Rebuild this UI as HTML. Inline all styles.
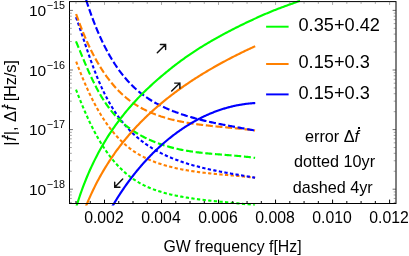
<!DOCTYPE html><html><head><meta charset="utf-8"><style>
html,body{margin:0;padding:0;background:#fff;}
body{width:409px;height:256px;position:relative;overflow:hidden;font-family:'Liberation Sans',sans-serif;color:#000;}
.t{position:absolute;white-space:nowrap;line-height:1;}
.xt{font-size:15.8px;top:209.8px;width:60px;margin-left:-30.6px;text-align:center;}
.yt{font-size:15.5px;width:60px;text-align:right;left:5px;}
.yt sup{font-size:10.8px;vertical-align:baseline;position:relative;top:-7.2px;margin-left:0.5px;}
.lg{font-size:18.2px;left:298.5px;}
.an{font-size:16.2px;width:120px;left:273px;text-align:center;}
.fd{font-style:italic;position:relative;display:inline-block;}
.fd i{position:absolute;left:0.21em;top:-0.03em;width:0.125em;height:0.125em;background:#000;border-radius:0;}
</style></head><body>
<svg width="409" height="256" viewBox="0 0 409 256" style="position:absolute;left:0;top:0">
<defs><clipPath id="cp"><rect x="69.5" y="0.1" width="326.5" height="205.5"/></clipPath></defs>
<g clip-path="url(#cp)" fill="none">
<path d="M76.01 89.63 L76.34 90.50 L76.68 91.38 L77.03 92.26 L77.37 93.14 L77.71 94.02 L78.06 94.91 L78.41 95.79 L78.76 96.68 L79.11 97.57 L79.47 98.46 L79.83 99.36 L80.19 100.25 L80.55 101.15 L80.91 102.05 L81.28 102.95 L81.65 103.85 L82.02 104.75 L82.40 105.65 L82.78 106.56 L83.16 107.46 L83.54 108.37 L83.92 109.27 L84.31 110.18 L84.70 111.08 L85.10 111.99 L85.49 112.89 L85.89 113.80 L86.29 114.71 L86.70 115.61 L87.11 116.52 L87.52 117.42 L87.93 118.33 L88.35 119.23 L88.77 120.13 L89.19 121.04 L89.62 121.94 L90.05 122.84 L90.48 123.74 L90.92 124.64 L91.36 125.53 L91.80 126.43 L92.25 127.32 L92.70 128.21 L93.15 129.10 L93.61 129.99 L94.07 130.88 L94.54 131.76 L95.01 132.65 L95.48 133.53 L95.96 134.40 L96.44 135.28 L96.92 136.15 L97.41 137.02 L97.90 137.89 L98.40 138.75 L98.90 139.61 L99.40 140.47 L99.91 141.33 L100.42 142.18 L100.94 143.03 L101.46 143.87 L101.98 144.71 L102.51 145.55 L103.05 146.38 L103.58 147.21 L104.13 148.04 L104.67 148.86 L105.23 149.68 L105.78 150.49 L106.34 151.30 L106.91 152.11 L107.48 152.91 L108.05 153.70 L108.63 154.49 L109.22 155.28 L109.80 156.06 L110.40 156.83 L111.00 157.60 L111.60 158.37 L112.21 159.13 L112.82 159.88 L113.44 160.63 L114.07 161.37 L114.70 162.11 L115.33 162.84 L115.97 163.56 L116.61 164.28 L117.26 164.99 L117.92 165.70 L118.58 166.39 L119.25 167.09 L119.92 167.77 L120.60 168.45 L121.28 169.12 L121.97 169.79 L122.66 170.45 L123.36 171.10 L124.07 171.74 L124.78 172.38 L125.50 173.01 L126.22 173.63 L126.95 174.24 L127.68 174.85 L128.42 175.45 L129.17 176.04 L129.92 176.62 L130.68 177.19 L131.44 177.76 L132.22 178.32 L132.99 178.86 L133.78 179.40 L134.57 179.94 L135.36 180.46 L136.16 180.97 L136.97 181.48 L137.79 181.97 L138.61 182.46 L139.44 182.93 L140.27 183.40 L141.11 183.86 L141.96 184.31 L142.81 184.75 L143.67 185.18 L144.54 185.60 L145.41 186.02 L146.28 186.42 L147.16 186.82 L148.05 187.21 L148.94 187.59 L149.84 187.97 L150.74 188.33 L151.64 188.69 L152.55 189.04 L153.47 189.38 L154.39 189.72 L155.31 190.05 L156.24 190.37 L157.17 190.68 L158.10 190.99 L159.04 191.29 L159.98 191.58 L160.93 191.87 L161.88 192.15 L162.83 192.43 L163.78 192.70 L164.74 192.96 L165.70 193.22 L166.66 193.47 L167.62 193.72 L168.59 193.96 L169.56 194.19 L170.53 194.42 L171.50 194.65 L172.47 194.87 L173.45 195.08 L174.42 195.29 L175.40 195.50 L176.38 195.70 L177.36 195.90 L178.34 196.09 L179.32 196.28 L180.30 196.46 L181.28 196.64 L182.26 196.82 L183.24 196.99 L184.23 197.16 L185.21 197.33 L186.19 197.49 L187.17 197.65 L188.16 197.81 L189.14 197.96 L190.12 198.11 L191.11 198.26 L192.09 198.41 L193.07 198.55 L194.05 198.69 L195.04 198.82 L196.02 198.96 L197.00 199.09 L197.98 199.22 L198.96 199.34 L199.95 199.47 L200.93 199.59 L201.91 199.71 L202.89 199.83 L203.87 199.94 L204.85 200.06 L205.83 200.17 L206.81 200.28 L207.79 200.39 L208.77 200.50 L209.75 200.60 L210.73 200.71 L211.71 200.81 L212.69 200.91 L213.66 201.01 L214.64 201.11 L215.62 201.21 L216.59 201.31 L217.57 201.41 L218.54 201.50 L219.52 201.60 L220.49 201.69 L221.47 201.79 L222.44 201.88 L223.41 201.98 L224.38 202.07 L225.35 202.16 L226.32 202.26 L227.29 202.35 L228.26 202.44 L229.23 202.54 L230.20 202.63 L231.17 202.73 L232.13 202.82 L233.10 202.92 L234.06 203.01 L235.02 203.11 L235.99 203.21 L236.95 203.30 L237.91 203.40 L238.87 203.50 L239.83 203.60 L240.79 203.70 L241.74 203.81 L242.70 203.91 L243.65 204.02 L244.61 204.12 L245.56 204.23 L246.51 204.34 L247.46 204.45 L248.41 204.57 L249.36 204.68 L250.31 204.80 L251.26 204.92 L252.20 205.04 L253.15 205.16 L254.09 205.29 L255.03 205.42" stroke="#00ff00" stroke-width="2.1" stroke-dasharray="3.3 2.35"/>
<path d="M76.15 61.62 L76.49 62.49 L76.82 63.37 L77.16 64.25 L77.50 65.13 L77.84 66.01 L78.18 66.90 L78.53 67.79 L78.88 68.67 L79.23 69.57 L79.58 70.46 L79.94 71.35 L80.30 72.25 L80.66 73.15 L81.02 74.05 L81.38 74.95 L81.75 75.85 L82.12 76.75 L82.49 77.65 L82.87 78.56 L83.25 79.46 L83.63 80.37 L84.01 81.27 L84.40 82.18 L84.79 83.08 L85.18 83.99 L85.58 84.90 L85.97 85.80 L86.38 86.71 L86.78 87.61 L87.19 88.52 L87.60 89.42 L88.01 90.33 L88.43 91.23 L88.85 92.13 L89.27 93.04 L89.70 93.94 L90.13 94.84 L90.56 95.74 L91.00 96.63 L91.44 97.53 L91.88 98.43 L92.33 99.32 L92.78 100.21 L93.23 101.10 L93.69 101.99 L94.15 102.87 L94.62 103.76 L95.09 104.64 L95.56 105.52 L96.04 106.40 L96.52 107.27 L97.00 108.14 L97.49 109.01 L97.98 109.88 L98.48 110.74 L98.98 111.60 L99.48 112.46 L99.99 113.31 L100.50 114.17 L101.02 115.01 L101.54 115.86 L102.07 116.70 L102.60 117.53 L103.13 118.37 L103.67 119.20 L104.22 120.02 L104.76 120.84 L105.32 121.66 L105.87 122.47 L106.43 123.28 L107.00 124.08 L107.57 124.88 L108.15 125.67 L108.73 126.46 L109.31 127.25 L109.90 128.03 L110.50 128.80 L111.10 129.57 L111.70 130.33 L112.31 131.09 L112.93 131.84 L113.55 132.59 L114.17 133.33 L114.80 134.06 L115.44 134.79 L116.08 135.52 L116.72 136.23 L117.37 136.94 L118.03 137.65 L118.69 138.35 L119.36 139.04 L120.03 139.72 L120.71 140.40 L121.39 141.07 L122.08 141.73 L122.78 142.39 L123.48 143.04 L124.18 143.68 L124.89 144.32 L125.61 144.95 L126.33 145.57 L127.06 146.18 L127.80 146.78 L128.54 147.38 L129.29 147.97 L130.04 148.55 L130.80 149.12 L131.56 149.68 L132.33 150.24 L133.11 150.79 L133.89 151.32 L134.68 151.85 L135.48 152.37 L136.28 152.89 L137.09 153.39 L137.90 153.89 L138.72 154.37 L139.55 154.85 L140.38 155.32 L141.21 155.78 L142.05 156.24 L142.90 156.68 L143.75 157.12 L144.61 157.55 L145.47 157.98 L146.34 158.39 L147.21 158.80 L148.09 159.20 L148.97 159.59 L149.86 159.98 L150.75 160.36 L151.64 160.73 L152.54 161.10 L153.44 161.45 L154.35 161.81 L155.26 162.15 L156.18 162.49 L157.10 162.82 L158.02 163.14 L158.95 163.46 L159.88 163.77 L160.81 164.08 L161.75 164.38 L162.69 164.67 L163.63 164.96 L164.57 165.24 L165.52 165.52 L166.47 165.79 L167.43 166.05 L168.39 166.31 L169.35 166.57 L170.31 166.82 L171.27 167.06 L172.24 167.30 L173.21 167.53 L174.18 167.76 L175.15 167.98 L176.12 168.20 L177.10 168.41 L178.08 168.62 L179.06 168.83 L180.04 169.03 L181.02 169.22 L182.01 169.41 L182.99 169.60 L183.98 169.78 L184.97 169.96 L185.95 170.14 L186.94 170.31 L187.93 170.48 L188.92 170.64 L189.91 170.80 L190.90 170.95 L191.90 171.11 L192.89 171.26 L193.88 171.40 L194.87 171.55 L195.86 171.69 L196.86 171.82 L197.85 171.96 L198.84 172.09 L199.83 172.22 L200.82 172.34 L201.81 172.47 L202.80 172.59 L203.79 172.70 L204.78 172.82 L205.77 172.93 L206.76 173.05 L207.74 173.16 L208.73 173.26 L209.72 173.37 L210.70 173.47 L211.69 173.57 L212.67 173.67 L213.65 173.77 L214.64 173.87 L215.62 173.97 L216.60 174.06 L217.58 174.15 L218.56 174.25 L219.54 174.34 L220.52 174.43 L221.50 174.52 L222.48 174.60 L223.45 174.69 L224.43 174.78 L225.40 174.87 L226.38 174.95 L227.35 175.04 L228.32 175.12 L229.29 175.21 L230.26 175.29 L231.23 175.38 L232.20 175.46 L233.16 175.55 L234.13 175.63 L235.09 175.72 L236.06 175.80 L237.02 175.89 L237.98 175.98 L238.94 176.06 L239.90 176.15 L240.86 176.24 L241.81 176.33 L242.77 176.42 L243.72 176.51 L244.67 176.61 L245.62 176.70 L246.57 176.79 L247.52 176.89 L248.47 176.99 L249.41 177.09 L250.36 177.19 L251.30 177.29 L252.24 177.40 L253.18 177.50 L254.12 177.61 L255.05 177.72" stroke="#ff8000" stroke-width="2.1" stroke-dasharray="3.3 2.35"/>
<path d="M76.00 17.22 L76.35 18.22 L76.71 19.21 L77.06 20.21 L77.42 21.21 L77.77 22.21 L78.12 23.22 L78.47 24.23 L78.82 25.24 L79.17 26.26 L79.52 27.27 L79.87 28.29 L80.21 29.32 L80.56 30.34 L80.91 31.37 L81.26 32.40 L81.60 33.43 L81.95 34.46 L82.30 35.50 L82.64 36.53 L82.99 37.57 L83.34 38.61 L83.69 39.65 L84.04 40.70 L84.38 41.74 L84.73 42.79 L85.09 43.83 L85.44 44.88 L85.79 45.93 L86.14 46.98 L86.50 48.03 L86.85 49.08 L87.21 50.13 L87.57 51.18 L87.93 52.23 L88.29 53.29 L88.66 54.34 L89.02 55.39 L89.39 56.45 L89.76 57.50 L90.13 58.55 L90.50 59.60 L90.88 60.66 L91.25 61.71 L91.63 62.76 L92.01 63.81 L92.40 64.86 L92.79 65.91 L93.18 66.96 L93.57 68.00 L93.96 69.05 L94.36 70.09 L94.76 71.14 L95.17 72.18 L95.58 73.22 L95.99 74.26 L96.40 75.30 L96.82 76.33 L97.24 77.37 L97.67 78.40 L98.09 79.43 L98.53 80.46 L98.96 81.49 L99.40 82.51 L99.85 83.53 L100.30 84.55 L100.75 85.57 L101.21 86.58 L101.67 87.59 L102.13 88.60 L102.60 89.61 L103.08 90.61 L103.56 91.61 L104.04 92.61 L104.53 93.60 L105.03 94.59 L105.53 95.58 L106.03 96.56 L106.54 97.54 L107.06 98.51 L107.58 99.49 L108.10 100.45 L108.63 101.42 L109.17 102.38 L109.72 103.33 L110.26 104.28 L110.82 105.23 L111.38 106.17 L111.95 107.11 L112.52 108.05 L113.10 108.98 L113.69 109.90 L114.28 110.82 L114.88 111.73 L115.48 112.64 L116.10 113.55 L116.72 114.44 L117.34 115.34 L117.97 116.23 L118.61 117.11 L119.26 117.98 L119.92 118.86 L120.58 119.72 L121.25 120.58 L121.92 121.43 L122.61 122.28 L123.30 123.12 L124.00 123.96 L124.70 124.79 L125.41 125.61 L126.13 126.42 L126.86 127.23 L127.59 128.04 L128.33 128.83 L129.08 129.62 L129.84 130.40 L130.60 131.18 L131.37 131.95 L132.15 132.71 L132.93 133.46 L133.72 134.21 L134.52 134.94 L135.32 135.68 L136.13 136.40 L136.95 137.12 L137.78 137.82 L138.61 138.52 L139.45 139.22 L140.29 139.90 L141.14 140.58 L142.00 141.24 L142.87 141.90 L143.74 142.56 L144.62 143.20 L145.50 143.83 L146.40 144.46 L147.29 145.08 L148.20 145.69 L149.11 146.29 L150.03 146.88 L150.95 147.46 L151.88 148.04 L152.81 148.61 L153.75 149.17 L154.70 149.72 L155.65 150.27 L156.60 150.80 L157.57 151.33 L158.53 151.85 L159.50 152.37 L160.48 152.87 L161.46 153.37 L162.44 153.86 L163.43 154.34 L164.43 154.82 L165.42 155.29 L166.43 155.75 L167.43 156.20 L168.44 156.65 L169.45 157.09 L170.47 157.52 L171.49 157.94 L172.51 158.36 L173.54 158.77 L174.57 159.18 L175.60 159.58 L176.64 159.97 L177.68 160.35 L178.72 160.73 L179.77 161.11 L180.82 161.47 L181.87 161.83 L182.92 162.19 L183.98 162.54 L185.04 162.88 L186.10 163.22 L187.16 163.55 L188.23 163.88 L189.29 164.20 L190.36 164.52 L191.43 164.83 L192.51 165.14 L193.58 165.44 L194.66 165.74 L195.74 166.03 L196.82 166.32 L197.90 166.60 L198.98 166.88 L200.07 167.15 L201.15 167.42 L202.24 167.69 L203.32 167.95 L204.41 168.21 L205.50 168.46 L206.59 168.71 L207.68 168.96 L208.77 169.21 L209.87 169.45 L210.96 169.68 L212.05 169.92 L213.14 170.15 L214.24 170.37 L215.33 170.60 L216.42 170.82 L217.51 171.04 L218.61 171.26 L219.70 171.47 L220.79 171.68 L221.88 171.89 L222.98 172.10 L224.07 172.30 L225.16 172.50 L226.25 172.70 L227.33 172.90 L228.42 173.10 L229.51 173.29 L230.59 173.49 L231.68 173.68 L232.76 173.87 L233.84 174.06 L234.93 174.25 L236.00 174.44 L237.08 174.62 L238.16 174.81 L239.23 174.99 L240.30 175.18 L241.38 175.36 L242.44 175.55 L243.51 175.73 L244.57 175.91 L245.64 176.09 L246.70 176.28 L247.75 176.46 L248.81 176.64 L249.86 176.82 L250.91 177.01 L251.96 177.19 L253.00 177.37 L254.04 177.56 L255.08 177.74" stroke="#0000ff" stroke-width="2.1" stroke-dasharray="3.3 2.35"/>
<path d="M75.95 41.31 L76.31 42.16 L76.67 43.02 L77.03 43.89 L77.40 44.75 L77.76 45.62 L78.12 46.50 L78.49 47.38 L78.85 48.26 L79.22 49.14 L79.58 50.03 L79.95 50.92 L80.32 51.81 L80.69 52.70 L81.06 53.60 L81.43 54.50 L81.80 55.40 L82.18 56.30 L82.55 57.21 L82.93 58.12 L83.31 59.02 L83.68 59.93 L84.07 60.85 L84.45 61.76 L84.83 62.67 L85.22 63.59 L85.61 64.50 L86.00 65.42 L86.39 66.33 L86.79 67.25 L87.19 68.17 L87.59 69.08 L87.99 70.00 L88.39 70.92 L88.80 71.84 L89.21 72.75 L89.62 73.67 L90.04 74.58 L90.46 75.50 L90.88 76.41 L91.30 77.32 L91.73 78.23 L92.16 79.14 L92.59 80.05 L93.03 80.96 L93.47 81.86 L93.92 82.76 L94.36 83.66 L94.82 84.56 L95.27 85.46 L95.73 86.35 L96.19 87.24 L96.66 88.13 L97.13 89.02 L97.61 89.90 L98.09 90.78 L98.57 91.66 L99.06 92.53 L99.55 93.40 L100.05 94.26 L100.55 95.13 L101.05 95.98 L101.56 96.84 L102.08 97.69 L102.60 98.53 L103.13 99.37 L103.66 100.21 L104.19 101.04 L104.73 101.87 L105.28 102.69 L105.83 103.50 L106.39 104.32 L106.95 105.12 L107.52 105.92 L108.09 106.72 L108.67 107.50 L109.25 108.29 L109.84 109.06 L110.44 109.83 L111.04 110.60 L111.65 111.36 L112.27 112.11 L112.89 112.85 L113.52 113.59 L114.15 114.32 L114.79 115.04 L115.44 115.76 L116.09 116.47 L116.75 117.17 L117.42 117.86 L118.09 118.55 L118.77 119.22 L119.46 119.89 L120.16 120.55 L120.86 121.21 L121.56 121.86 L122.28 122.49 L123.00 123.13 L123.72 123.75 L124.46 124.37 L125.19 124.98 L125.94 125.58 L126.69 126.17 L127.44 126.76 L128.21 127.34 L128.97 127.91 L129.75 128.48 L130.53 129.03 L131.31 129.58 L132.10 130.13 L132.90 130.66 L133.70 131.19 L134.50 131.71 L135.31 132.23 L136.13 132.74 L136.95 133.24 L137.77 133.73 L138.61 134.22 L139.44 134.70 L140.28 135.17 L141.13 135.64 L141.97 136.09 L142.83 136.55 L143.69 136.99 L144.55 137.43 L145.42 137.86 L146.29 138.29 L147.16 138.71 L148.04 139.12 L148.92 139.53 L149.81 139.93 L150.70 140.32 L151.60 140.70 L152.50 141.08 L153.40 141.46 L154.30 141.82 L155.21 142.19 L156.12 142.54 L157.04 142.89 L157.96 143.23 L158.88 143.57 L159.81 143.89 L160.73 144.22 L161.67 144.54 L162.60 144.85 L163.54 145.15 L164.48 145.45 L165.42 145.74 L166.36 146.03 L167.31 146.31 L168.26 146.59 L169.21 146.85 L170.17 147.12 L171.12 147.38 L172.08 147.63 L173.04 147.87 L174.00 148.11 L174.97 148.35 L175.94 148.58 L176.90 148.80 L177.87 149.02 L178.85 149.23 L179.82 149.44 L180.79 149.64 L181.77 149.83 L182.75 150.02 L183.73 150.21 L184.71 150.39 L185.69 150.56 L186.67 150.73 L187.65 150.90 L188.64 151.06 L189.63 151.22 L190.61 151.37 L191.60 151.52 L192.59 151.66 L193.58 151.80 L194.57 151.94 L195.56 152.07 L196.55 152.20 L197.54 152.32 L198.53 152.44 L199.52 152.56 L200.52 152.68 L201.51 152.79 L202.50 152.90 L203.50 153.01 L204.49 153.11 L205.49 153.21 L206.48 153.31 L207.47 153.41 L208.47 153.50 L209.46 153.60 L210.46 153.69 L211.45 153.78 L212.44 153.86 L213.44 153.95 L214.43 154.03 L215.42 154.12 L216.42 154.20 L217.41 154.28 L218.40 154.36 L219.39 154.44 L220.38 154.52 L221.37 154.60 L222.35 154.67 L223.34 154.75 L224.33 154.83 L225.31 154.91 L226.30 154.98 L227.28 155.06 L228.26 155.14 L229.25 155.21 L230.23 155.29 L231.20 155.37 L232.18 155.45 L233.16 155.53 L234.13 155.62 L235.10 155.70 L236.08 155.78 L237.05 155.87 L238.01 155.96 L238.98 156.04 L239.95 156.13 L240.91 156.23 L241.87 156.32 L242.83 156.42 L243.79 156.52 L244.74 156.62 L245.69 156.72 L246.65 156.83 L247.59 156.94 L248.54 157.05 L249.49 157.17 L250.43 157.28 L251.37 157.40 L252.30 157.53 L253.24 157.66 L254.17 157.79 L255.10 157.93" stroke="#00ff00" stroke-width="2.15" stroke-dasharray="7 2.7"/>
<path d="M76.12 13.99 L76.43 14.88 L76.75 15.77 L77.06 16.66 L77.39 17.56 L77.71 18.46 L78.04 19.35 L78.36 20.25 L78.70 21.15 L79.03 22.06 L79.37 22.96 L79.71 23.87 L80.05 24.77 L80.40 25.68 L80.75 26.59 L81.10 27.49 L81.46 28.40 L81.82 29.31 L82.18 30.22 L82.54 31.13 L82.91 32.04 L83.28 32.95 L83.66 33.86 L84.04 34.77 L84.42 35.68 L84.80 36.59 L85.19 37.50 L85.58 38.41 L85.98 39.32 L86.38 40.23 L86.78 41.14 L87.18 42.04 L87.59 42.95 L88.01 43.86 L88.42 44.76 L88.84 45.66 L89.27 46.56 L89.69 47.46 L90.13 48.36 L90.56 49.26 L91.00 50.15 L91.44 51.05 L91.89 51.94 L92.34 52.83 L92.79 53.72 L93.25 54.60 L93.72 55.48 L94.18 56.37 L94.65 57.24 L95.13 58.12 L95.61 58.99 L96.09 59.86 L96.58 60.73 L97.07 61.60 L97.56 62.46 L98.07 63.32 L98.57 64.17 L99.08 65.03 L99.59 65.88 L100.11 66.72 L100.63 67.56 L101.16 68.40 L101.69 69.24 L102.23 70.07 L102.77 70.90 L103.31 71.72 L103.86 72.54 L104.42 73.35 L104.98 74.16 L105.54 74.97 L106.11 75.77 L106.68 76.57 L107.26 77.36 L107.84 78.15 L108.43 78.93 L109.03 79.71 L109.62 80.48 L110.23 81.25 L110.84 82.01 L111.45 82.77 L112.07 83.52 L112.69 84.26 L113.32 85.00 L113.95 85.74 L114.59 86.46 L115.24 87.19 L115.89 87.90 L116.54 88.61 L117.20 89.32 L117.87 90.02 L118.54 90.71 L119.22 91.39 L119.90 92.07 L120.59 92.74 L121.28 93.41 L121.98 94.07 L122.68 94.72 L123.39 95.36 L124.11 96.00 L124.83 96.63 L125.56 97.25 L126.29 97.86 L127.03 98.47 L127.78 99.07 L128.53 99.66 L129.28 100.25 L130.05 100.82 L130.81 101.39 L131.59 101.95 L132.37 102.50 L133.16 103.05 L133.95 103.58 L134.75 104.11 L135.55 104.63 L136.36 105.14 L137.18 105.64 L138.00 106.13 L138.83 106.62 L139.66 107.10 L140.50 107.57 L141.34 108.03 L142.19 108.49 L143.04 108.94 L143.90 109.38 L144.76 109.81 L145.63 110.23 L146.50 110.65 L147.37 111.06 L148.26 111.47 L149.14 111.86 L150.03 112.25 L150.92 112.64 L151.82 113.01 L152.72 113.38 L153.63 113.74 L154.54 114.10 L155.45 114.45 L156.36 114.79 L157.28 115.13 L158.21 115.45 L159.13 115.78 L160.06 116.09 L160.99 116.41 L161.93 116.71 L162.87 117.01 L163.81 117.30 L164.75 117.59 L165.70 117.87 L166.65 118.14 L167.60 118.41 L168.55 118.68 L169.51 118.93 L170.46 119.19 L171.42 119.43 L172.38 119.68 L173.35 119.91 L174.31 120.14 L175.28 120.37 L176.24 120.59 L177.21 120.81 L178.18 121.02 L179.16 121.22 L180.13 121.42 L181.10 121.62 L182.08 121.81 L183.06 122.00 L184.03 122.18 L185.01 122.36 L185.99 122.54 L186.97 122.71 L187.95 122.88 L188.94 123.04 L189.92 123.20 L190.90 123.36 L191.89 123.51 L192.87 123.66 L193.86 123.81 L194.84 123.95 L195.83 124.09 L196.82 124.22 L197.81 124.36 L198.79 124.49 L199.78 124.62 L200.77 124.74 L201.76 124.86 L202.75 124.98 L203.74 125.10 L204.73 125.22 L205.72 125.33 L206.71 125.44 L207.69 125.55 L208.68 125.66 L209.67 125.77 L210.66 125.87 L211.65 125.97 L212.64 126.07 L213.62 126.17 L214.61 126.27 L215.60 126.37 L216.59 126.46 L217.57 126.56 L218.56 126.65 L219.54 126.75 L220.52 126.84 L221.51 126.93 L222.49 127.02 L223.47 127.12 L224.45 127.21 L225.43 127.30 L226.41 127.39 L227.39 127.48 L228.36 127.57 L229.34 127.66 L230.31 127.75 L231.28 127.84 L232.26 127.93 L233.23 128.03 L234.19 128.12 L235.16 128.21 L236.13 128.31 L237.09 128.40 L238.06 128.50 L239.02 128.60 L239.98 128.70 L240.93 128.80 L241.89 128.90 L242.84 129.01 L243.80 129.11 L244.75 129.22 L245.70 129.33 L246.64 129.44 L247.59 129.55 L248.53 129.67 L249.47 129.78 L250.41 129.90 L251.34 130.02 L252.28 130.15 L253.21 130.28 L254.14 130.41 L255.06 130.54" stroke="#ff8000" stroke-width="2.15" stroke-dasharray="7 2.7"/>
<path d="M86.13 -0.10 L86.42 0.80 L86.72 1.70 L87.01 2.60 L87.31 3.50 L87.61 4.40 L87.91 5.30 L88.21 6.20 L88.52 7.11 L88.83 8.01 L89.14 8.92 L89.45 9.83 L89.77 10.73 L90.09 11.64 L90.41 12.55 L90.74 13.46 L91.06 14.37 L91.39 15.28 L91.72 16.19 L92.06 17.10 L92.40 18.01 L92.74 18.92 L93.08 19.83 L93.43 20.74 L93.78 21.65 L94.13 22.56 L94.48 23.47 L94.84 24.38 L95.20 25.29 L95.57 26.20 L95.93 27.11 L96.30 28.01 L96.68 28.92 L97.05 29.82 L97.43 30.73 L97.82 31.63 L98.20 32.53 L98.59 33.44 L98.99 34.33 L99.38 35.23 L99.78 36.13 L100.19 37.03 L100.59 37.92 L101.00 38.81 L101.42 39.70 L101.84 40.59 L102.26 41.48 L102.68 42.37 L103.11 43.25 L103.54 44.13 L103.98 45.01 L104.42 45.89 L104.86 46.76 L105.31 47.63 L105.76 48.50 L106.22 49.37 L106.67 50.24 L107.14 51.10 L107.61 51.96 L108.08 52.82 L108.55 53.67 L109.03 54.52 L109.51 55.37 L110.00 56.21 L110.49 57.06 L110.99 57.89 L111.49 58.73 L112.00 59.56 L112.50 60.39 L113.02 61.22 L113.54 62.04 L114.06 62.85 L114.58 63.67 L115.12 64.48 L115.65 65.28 L116.19 66.09 L116.74 66.89 L117.29 67.68 L117.84 68.47 L118.40 69.26 L118.96 70.04 L119.53 70.81 L120.10 71.59 L120.68 72.35 L121.26 73.12 L121.85 73.88 L122.44 74.63 L123.04 75.38 L123.64 76.12 L124.25 76.86 L124.86 77.59 L125.48 78.32 L126.10 79.05 L126.73 79.76 L127.37 80.48 L128.00 81.18 L128.65 81.89 L129.30 82.58 L129.95 83.27 L130.61 83.96 L131.27 84.64 L131.94 85.31 L132.62 85.98 L133.30 86.64 L133.99 87.29 L134.68 87.94 L135.38 88.58 L136.08 89.22 L136.79 89.85 L137.50 90.47 L138.22 91.09 L138.95 91.70 L139.68 92.30 L140.42 92.90 L141.16 93.49 L141.91 94.07 L142.67 94.65 L143.43 95.21 L144.20 95.78 L144.97 96.33 L145.75 96.88 L146.53 97.42 L147.32 97.95 L148.11 98.48 L148.91 99.00 L149.72 99.51 L150.53 100.02 L151.34 100.52 L152.16 101.02 L152.99 101.51 L153.82 101.99 L154.65 102.47 L155.49 102.94 L156.33 103.40 L157.18 103.86 L158.03 104.31 L158.89 104.75 L159.75 105.19 L160.61 105.63 L161.48 106.06 L162.35 106.48 L163.23 106.90 L164.11 107.31 L164.99 107.71 L165.87 108.11 L166.76 108.51 L167.66 108.90 L168.55 109.28 L169.45 109.66 L170.35 110.04 L171.26 110.41 L172.16 110.77 L173.07 111.13 L173.99 111.48 L174.90 111.83 L175.82 112.18 L176.74 112.52 L177.66 112.85 L178.59 113.18 L179.51 113.51 L180.44 113.83 L181.37 114.15 L182.30 114.46 L183.24 114.77 L184.17 115.08 L185.11 115.38 L186.05 115.67 L186.99 115.96 L187.93 116.25 L188.87 116.54 L189.82 116.82 L190.76 117.09 L191.71 117.37 L192.66 117.63 L193.61 117.90 L194.56 118.16 L195.51 118.42 L196.46 118.68 L197.41 118.93 L198.37 119.18 L199.32 119.42 L200.27 119.66 L201.23 119.90 L202.19 120.14 L203.14 120.37 L204.10 120.60 L205.06 120.83 L206.02 121.05 L206.98 121.28 L207.93 121.49 L208.89 121.71 L209.85 121.93 L210.81 122.14 L211.77 122.35 L212.73 122.55 L213.69 122.76 L214.65 122.96 L215.61 123.16 L216.57 123.36 L217.53 123.56 L218.49 123.75 L219.44 123.95 L220.40 124.14 L221.36 124.33 L222.31 124.51 L223.27 124.70 L224.23 124.88 L225.18 125.07 L226.14 125.25 L227.09 125.43 L228.04 125.61 L228.99 125.79 L229.94 125.96 L230.89 126.14 L231.84 126.31 L232.79 126.49 L233.73 126.66 L234.68 126.83 L235.62 127.00 L236.57 127.17 L237.51 127.34 L238.45 127.51 L239.38 127.68 L240.32 127.85 L241.26 128.02 L242.19 128.19 L243.12 128.36 L244.05 128.52 L244.98 128.69 L245.91 128.86 L246.83 129.03 L247.75 129.19 L248.67 129.36 L249.59 129.53 L250.51 129.70 L251.42 129.87 L252.33 130.03 L253.24 130.20 L254.15 130.37 L255.05 130.54" stroke="#0000ff" stroke-width="2.15" stroke-dasharray="7 2.7"/>
<path d="M75.99 207.85 L77.12 204.18 L78.24 200.64 L79.37 197.23 L80.49 193.94 L81.62 190.76 L82.74 187.68 L83.87 184.69 L85.00 181.80 L86.12 179.00 L87.25 176.27 L88.37 173.62 L89.50 171.05 L90.62 168.54 L91.75 166.09 L92.88 163.71 L94.00 161.38 L95.13 159.11 L96.25 156.90 L97.38 154.73 L98.50 152.62 L99.63 150.54 L100.75 148.52 L101.88 146.53 L103.01 144.59 L104.13 142.68 L105.26 140.82 L106.38 138.99 L107.51 137.19 L108.63 135.43 L109.76 133.69 L110.89 131.99 L112.01 130.32 L113.14 128.68 L114.26 127.07 L115.39 125.48 L116.51 123.92 L117.64 122.39 L118.77 120.88 L119.89 119.39 L121.02 117.93 L122.14 116.48 L123.27 115.06 L124.39 113.66 L125.52 112.29 L126.65 110.93 L127.77 109.59 L128.90 108.27 L130.02 106.96 L131.15 105.68 L132.27 104.41 L133.40 103.16 L134.53 101.92 L135.65 100.70 L136.78 99.50 L137.90 98.31 L139.03 97.13 L140.15 95.97 L141.28 94.83 L142.41 93.70 L143.53 92.58 L144.66 91.47 L145.78 90.38 L146.91 89.30 L148.03 88.23 L149.16 87.17 L150.28 86.13 L151.41 85.09 L152.54 84.07 L153.66 83.05 L154.79 82.04 L155.91 81.04 L157.04 80.04 L158.16 79.06 L159.29 78.08 L160.42 77.11 L161.54 76.15 L162.67 75.20 L163.79 74.25 L164.92 73.32 L166.04 72.39 L167.17 71.46 L168.30 70.55 L169.42 69.64 L170.55 68.74 L171.67 67.85 L172.80 66.97 L173.92 66.09 L175.05 65.22 L176.18 64.36 L177.30 63.50 L178.43 62.65 L179.55 61.81 L180.68 60.98 L181.80 60.15 L182.93 59.34 L184.06 58.52 L185.18 57.72 L186.31 56.92 L187.43 56.14 L188.56 55.35 L189.68 54.58 L190.81 53.81 L191.93 53.06 L193.06 52.30 L194.19 51.56 L195.31 50.82 L196.44 50.10 L197.56 49.37 L198.69 48.66 L199.81 47.96 L200.94 47.26 L202.07 46.56 L203.19 45.87 L204.32 45.19 L205.44 44.51 L206.57 43.84 L207.69 43.17 L208.82 42.50 L209.95 41.85 L211.07 41.19 L212.20 40.54 L213.32 39.89 L214.45 39.25 L215.57 38.61 L216.70 37.98 L217.83 37.35 L218.95 36.72 L220.08 36.10 L221.20 35.49 L222.33 34.87 L223.45 34.26 L224.58 33.66 L225.71 33.06 L226.83 32.46 L227.96 31.87 L229.08 31.28 L230.21 30.69 L231.33 30.11 L232.46 29.53 L233.58 28.95 L234.71 28.38 L235.84 27.81 L236.96 27.25 L238.09 26.68 L239.21 26.12 L240.34 25.57 L241.46 25.02 L242.59 24.47 L243.72 23.92 L244.84 23.38 L245.97 22.84 L247.09 22.30 L248.22 21.77 L249.34 21.24 L250.47 20.71 L251.60 20.19 L252.72 19.66 L253.85 19.14 L254.97 18.63 L256.10 18.11 L257.22 17.60 L258.35 17.10 L259.48 16.59 L260.60 16.09 L261.73 15.59 L262.85 15.09 L263.98 14.60 L265.10 14.10 L266.23 13.62 L267.36 13.14 L268.48 12.66 L269.61 12.19 L270.73 11.73 L271.86 11.27 L272.98 10.82 L274.11 10.37 L275.24 9.92 L276.36 9.48 L277.49 9.05 L278.61 8.62 L279.74 8.19 L280.86 7.76 L281.99 7.34 L283.11 6.92 L284.24 6.51 L285.37 6.09 L286.49 5.68 L287.62 5.27 L288.74 4.86 L289.87 4.45 L290.99 4.05 L292.12 3.64 L293.25 3.23 L294.37 2.83 L295.50 2.42 L296.62 2.02 L297.75 1.61 L298.87 1.21 L300.00 0.80" stroke="#00ff00" stroke-width="2.15"/>
<path d="M75.99 234.67 L76.89 231.72 L77.79 228.86 L78.69 226.08 L79.59 223.38 L80.49 220.76 L81.39 218.20 L82.29 215.72 L83.19 213.29 L84.09 210.93 L85.00 208.62 L85.90 206.37 L86.80 204.17 L87.70 202.02 L88.60 199.92 L89.50 197.86 L90.40 195.85 L91.30 193.88 L92.20 191.95 L93.10 190.06 L94.00 188.20 L94.90 186.38 L95.80 184.60 L96.70 182.85 L97.60 181.12 L98.50 179.43 L99.40 177.77 L100.30 176.14 L101.21 174.54 L102.11 172.96 L103.01 171.41 L103.91 169.88 L104.81 168.38 L105.71 166.90 L106.61 165.44 L107.51 164.01 L108.41 162.60 L109.31 161.20 L110.21 159.83 L111.11 158.48 L112.01 157.14 L112.91 155.83 L113.81 154.53 L114.71 153.25 L115.61 151.99 L116.51 150.74 L117.42 149.51 L118.32 148.30 L119.22 147.10 L120.12 145.92 L121.02 144.75 L121.92 143.59 L122.82 142.45 L123.72 141.32 L124.62 140.21 L125.52 139.11 L126.42 138.02 L127.32 136.94 L128.22 135.88 L129.12 134.82 L130.02 133.78 L130.92 132.75 L131.82 131.73 L132.72 130.72 L133.63 129.73 L134.53 128.74 L135.43 127.76 L136.33 126.80 L137.23 125.84 L138.13 124.89 L139.03 123.95 L139.93 123.02 L140.83 122.10 L141.73 121.19 L142.63 120.29 L143.53 119.40 L144.43 118.51 L145.33 117.63 L146.23 116.76 L147.13 115.90 L148.03 115.05 L148.93 114.20 L149.84 113.36 L150.74 112.53 L151.64 111.71 L152.54 110.89 L153.44 110.08 L154.34 109.28 L155.24 108.48 L156.14 107.69 L157.04 106.91 L157.94 106.13 L158.84 105.36 L159.74 104.60 L160.64 103.84 L161.54 103.09 L162.44 102.34 L163.34 101.60 L164.24 100.86 L165.14 100.13 L166.05 99.41 L166.95 98.69 L167.85 97.98 L168.75 97.27 L169.65 96.57 L170.55 95.87 L171.45 95.18 L172.35 94.49 L173.25 93.81 L174.15 93.14 L175.05 92.46 L175.95 91.80 L176.85 91.13 L177.75 90.47 L178.65 89.82 L179.55 89.17 L180.45 88.53 L181.35 87.89 L182.26 87.25 L183.16 86.62 L184.06 85.99 L184.96 85.37 L185.86 84.75 L186.76 84.13 L187.66 83.52 L188.56 82.91 L189.46 82.31 L190.36 81.71 L191.26 81.11 L192.16 80.52 L193.06 79.93 L193.96 79.34 L194.86 78.76 L195.76 78.18 L196.66 77.61 L197.56 77.04 L198.47 76.47 L199.37 75.91 L200.27 75.34 L201.17 74.79 L202.07 74.23 L202.97 73.68 L203.87 73.13 L204.77 72.59 L205.67 72.05 L206.57 71.51 L207.47 70.97 L208.37 70.44 L209.27 69.91 L210.17 69.38 L211.07 68.86 L211.97 68.34 L212.87 67.82 L213.77 67.30 L214.68 66.79 L215.58 66.28 L216.48 65.77 L217.38 65.27 L218.28 64.77 L219.18 64.27 L220.08 63.77 L220.98 63.28 L221.88 62.79 L222.78 62.30 L223.68 61.81 L224.58 61.33 L225.48 60.85 L226.38 60.37 L227.28 59.89 L228.18 59.42 L229.08 58.95 L229.98 58.48 L230.89 58.01 L231.79 57.54 L232.69 57.08 L233.59 56.62 L234.49 56.16 L235.39 55.71 L236.29 55.25 L237.19 54.80 L238.09 54.35 L238.99 53.91 L239.89 53.46 L240.79 53.02 L241.69 52.58 L242.59 52.14 L243.49 51.70 L244.39 51.26 L245.29 50.83 L246.19 50.40 L247.10 49.97 L248.00 49.54 L248.90 49.12 L249.80 48.70 L250.70 48.27 L251.60 47.85 L252.50 47.44 L253.40 47.02 L254.30 46.61 L255.20 46.19" stroke="#ff8000" stroke-width="2.15"/>
<path d="M112.19 206.69 L112.56 206.04 L112.94 205.40 L113.31 204.75 L113.69 204.11 L114.08 203.46 L114.46 202.81 L114.85 202.17 L115.24 201.53 L115.63 200.88 L116.02 200.24 L116.42 199.60 L116.81 198.96 L117.21 198.31 L117.62 197.67 L118.02 197.03 L118.43 196.39 L118.83 195.75 L119.24 195.11 L119.66 194.48 L120.07 193.84 L120.49 193.20 L120.91 192.57 L121.33 191.93 L121.75 191.30 L122.18 190.66 L122.60 190.03 L123.03 189.40 L123.46 188.77 L123.90 188.14 L124.33 187.51 L124.77 186.88 L125.21 186.25 L125.65 185.62 L126.10 185.00 L126.54 184.37 L126.99 183.75 L127.44 183.12 L127.89 182.50 L128.35 181.88 L128.81 181.26 L129.26 180.64 L129.72 180.02 L130.19 179.41 L130.65 178.79 L131.12 178.17 L131.59 177.56 L132.06 176.95 L132.53 176.34 L133.00 175.73 L133.48 175.12 L133.96 174.51 L134.44 173.90 L134.92 173.30 L135.41 172.69 L135.89 172.09 L136.38 171.49 L136.87 170.89 L137.37 170.29 L137.86 169.70 L138.36 169.10 L138.86 168.51 L139.36 167.91 L139.86 167.32 L140.36 166.73 L140.87 166.14 L141.38 165.56 L141.89 164.97 L142.40 164.39 L142.91 163.80 L143.43 163.22 L143.95 162.64 L144.47 162.07 L144.99 161.49 L145.51 160.92 L146.04 160.34 L146.57 159.77 L147.10 159.20 L147.63 158.64 L148.16 158.07 L148.70 157.51 L149.23 156.94 L149.77 156.38 L150.31 155.83 L150.86 155.27 L151.40 154.71 L151.95 154.16 L152.49 153.61 L153.04 153.06 L153.60 152.51 L154.15 151.97 L154.71 151.43 L155.26 150.88 L155.82 150.34 L156.38 149.81 L156.95 149.27 L157.51 148.74 L158.08 148.21 L158.65 147.68 L159.22 147.15 L159.79 146.63 L160.36 146.11 L160.94 145.59 L161.52 145.07 L162.10 144.55 L162.68 144.04 L163.26 143.53 L163.85 143.02 L164.43 142.51 L165.02 142.01 L165.61 141.50 L166.20 141.00 L166.80 140.51 L167.39 140.01 L167.99 139.52 L168.59 139.03 L169.19 138.54 L169.79 138.06 L170.40 137.57 L171.00 137.09 L171.61 136.61 L172.22 136.14 L172.83 135.67 L173.45 135.20 L174.06 134.73 L174.68 134.26 L175.29 133.80 L175.91 133.34 L176.54 132.88 L177.16 132.43 L177.78 131.98 L178.41 131.53 L179.04 131.08 L179.67 130.64 L180.30 130.20 L180.93 129.76 L181.57 129.33 L182.21 128.89 L182.84 128.46 L183.49 128.04 L184.13 127.61 L184.77 127.19 L185.42 126.77 L186.06 126.36 L186.71 125.95 L187.36 125.54 L188.01 125.13 L188.67 124.73 L189.32 124.33 L189.98 123.93 L190.64 123.54 L191.30 123.15 L191.96 122.76 L192.62 122.38 L193.28 121.99 L193.95 121.62 L194.62 121.24 L195.29 120.87 L195.96 120.50 L196.63 120.14 L197.31 119.77 L197.98 119.41 L198.66 119.06 L199.34 118.71 L200.02 118.36 L200.70 118.01 L201.38 117.67 L202.07 117.33 L202.76 117.00 L203.44 116.66 L204.13 116.33 L204.83 116.01 L205.52 115.69 L206.21 115.37 L206.91 115.05 L207.61 114.74 L208.31 114.44 L209.01 114.13 L209.71 113.83 L210.41 113.53 L211.12 113.24 L211.82 112.95 L212.53 112.67 L213.24 112.38 L213.95 112.11 L214.67 111.83 L215.38 111.56 L216.10 111.29 L216.81 111.03 L217.53 110.77 L218.25 110.51 L218.97 110.26 L219.70 110.01 L220.42 109.77 L221.15 109.53 L221.87 109.29 L222.60 109.06 L223.33 108.83 L224.06 108.61 L224.80 108.38 L225.53 108.17 L226.27 107.96 L227.01 107.75 L227.74 107.54 L228.48 107.34 L229.23 107.14 L229.97 106.95 L230.71 106.76 L231.46 106.58 L232.21 106.40 L232.95 106.22 L233.70 106.05 L234.46 105.89 L235.21 105.72 L235.96 105.56 L236.72 105.41 L237.48 105.26 L238.23 105.11 L238.99 104.97 L239.75 104.83 L240.52 104.70 L241.28 104.57 L242.05 104.45 L242.81 104.33 L243.58 104.21 L244.35 104.10 L245.12 104.00 L245.89 103.89 L246.66 103.80 L247.44 103.70 L248.21 103.62 L248.99 103.53 L249.77 103.45 L250.55 103.38 L251.33 103.31 L252.11 103.24 L252.90 103.18 L253.68 103.13 L254.47 103.08 L255.25 103.03" stroke="#0000ff" stroke-width="2.15"/>
</g>
<rect x="69.5" y="1.6" width="326.5" height="201.9" fill="none" stroke="#000" stroke-width="1"/>
<path d="M75.99 203.50v-2.50M90.25 203.50v-2.50M104.50 203.50v-3.90M118.75 203.50v-2.50M133.01 203.50v-2.50M147.26 203.50v-2.50M161.52 203.50v-3.90M175.78 203.50v-2.50M190.03 203.50v-2.50M204.29 203.50v-2.50M218.54 203.50v-3.90M232.79 203.50v-2.50M247.05 203.50v-2.50M261.31 203.50v-2.50M275.56 203.50v-3.90M289.82 203.50v-2.50M304.07 203.50v-2.50M318.33 203.50v-2.50M332.58 203.50v-3.90M346.83 203.50v-2.50M361.09 203.50v-2.50M375.34 203.50v-2.50M389.60 203.50v-3.90" stroke="#000" stroke-width="1" fill="none"/>
<path d="M75.99 1.55v2.30M90.25 1.55v2.30M104.50 1.55v3.40M118.75 1.55v2.30M133.01 1.55v2.30M147.26 1.55v2.30M161.52 1.55v3.40M175.78 1.55v2.30M190.03 1.55v2.30M204.29 1.55v2.30M218.54 1.55v3.40M232.79 1.55v2.30M247.05 1.55v2.30M261.31 1.55v2.30M275.56 1.55v3.40M289.82 1.55v2.30M304.07 1.55v2.30M318.33 1.55v2.30M332.58 1.55v3.40M346.83 1.55v2.30M361.09 1.55v2.30M375.34 1.55v2.30M389.60 1.55v3.40" stroke="#555" stroke-width="0.5" fill="none"/>
<path d="M69.50 189.20h3.4M396.00 189.20h-3.4M69.50 129.60h3.4M396.00 129.60h-3.4M69.50 70.00h3.4M396.00 70.00h-3.4M69.50 10.40h3.4M396.00 10.40h-3.4" stroke="#333" stroke-width="0.7" fill="none"/>
<path d="M69.50 202.42h2.3M396.00 202.42h-2.3M69.50 198.43h2.3M396.00 198.43h-2.3M69.50 194.98h2.3M396.00 194.98h-2.3M69.50 191.93h2.3M396.00 191.93h-2.3M69.50 171.26h2.3M396.00 171.26h-2.3M69.50 160.76h2.3M396.00 160.76h-2.3M69.50 153.32h2.3M396.00 153.32h-2.3M69.50 147.54h2.3M396.00 147.54h-2.3M69.50 142.82h2.3M396.00 142.82h-2.3M69.50 138.83h2.3M396.00 138.83h-2.3M69.50 135.38h2.3M396.00 135.38h-2.3M69.50 132.33h2.3M396.00 132.33h-2.3M69.50 111.66h2.3M396.00 111.66h-2.3M69.50 101.16h2.3M396.00 101.16h-2.3M69.50 93.72h2.3M396.00 93.72h-2.3M69.50 87.94h2.3M396.00 87.94h-2.3M69.50 83.22h2.3M396.00 83.22h-2.3M69.50 79.23h2.3M396.00 79.23h-2.3M69.50 75.78h2.3M396.00 75.78h-2.3M69.50 72.73h2.3M396.00 72.73h-2.3M69.50 52.06h2.3M396.00 52.06h-2.3M69.50 41.56h2.3M396.00 41.56h-2.3M69.50 34.12h2.3M396.00 34.12h-2.3M69.50 28.34h2.3M396.00 28.34h-2.3M69.50 23.62h2.3M396.00 23.62h-2.3M69.50 19.63h2.3M396.00 19.63h-2.3M69.50 16.18h2.3M396.00 16.18h-2.3M69.50 13.13h2.3M396.00 13.13h-2.3" stroke="#555" stroke-width="0.55" fill="none"/>
<path d="M266.1 26.7H288.6" stroke="#00ff00" stroke-width="1.95" fill="none"/>
<path d="M266.1 64.0H288.6" stroke="#ff8000" stroke-width="1.95" fill="none"/>
<path d="M266.1 94.4H288.6" stroke="#0000ff" stroke-width="1.95" fill="none"/>
<path d="M157.3 52.7L165.6 44.4M160.4 44.4L165.6 44.4L165.6 49.4" stroke="#111" stroke-width="1.45" fill="none" stroke-linecap="round" stroke-linejoin="miter"/>
<path d="M171.7 91.1L179.9 83.1M174.7 83.1L179.9 83.1L179.9 88.3" stroke="#111" stroke-width="1.45" fill="none" stroke-linecap="round" stroke-linejoin="miter"/>
<path d="M122.7 179.0L114.7 187.2M114.7 182.2L114.7 187.2L119.9 187.2" stroke="#111" stroke-width="1.45" fill="none" stroke-linecap="round" stroke-linejoin="miter"/>
</svg>
<div style="will-change:transform;position:absolute;left:0;top:0;width:409px;height:256px">
<div class="t xt" style="left:104.5px">0.002</div>
<div class="t xt" style="left:161.5px">0.004</div>
<div class="t xt" style="left:218.5px">0.006</div>
<div class="t xt" style="left:275.6px">0.008</div>
<div class="t xt" style="left:332.6px">0.010</div>
<div class="t xt" style="left:389.6px">0.012</div>
<div class="t yt" style="top:3.2px">10<sup>−15</sup></div>
<div class="t yt" style="top:63.1px">10<sup>−16</sup></div>
<div class="t yt" style="top:122.2px">10<sup>−17</sup></div>
<div class="t yt" style="top:181.7px">10<sup>−18</sup></div>
<div class="t lg" style="top:16.2px">0.35+0.42</div>
<div class="t lg" style="top:52.9px">0.15+0.3</div>
<div class="t lg" style="top:83.5px">0.15+0.3</div>
<div class="t an" style="top:127.5px;left:272px">error Δ<span class="fd">f<i></i></span></div>
<div class="t an" style="top:152.7px;left:274.6px">dotted 10yr</div>
<div class="t an" style="top:179.2px;left:272.7px">dashed 4yr</div>
<div class="t" style="font-size:15.85px;left:132.5px;width:200px;text-align:center;top:238.5px">GW frequency f[Hz]</div>
<div class="t" style="font-size:16.5px;left:-90px;top:94.85px;width:200px;text-align:center;transform:rotate(-90deg);transform-origin:center center;"><span style="margin-left:0.7px"></span>|<span style="margin:0 1.1px 0 0.4px"><span class="fd">f<i></i></span></span>|,<span style="margin-left:0.8px"> </span>Δ<span style="margin-left:0.5px;margin-right:-0.2px"><span class="fd">f<i></i></span></span> <span style="letter-spacing:-0.17px">[Hz/s]</span></div>
</div></body></html>
